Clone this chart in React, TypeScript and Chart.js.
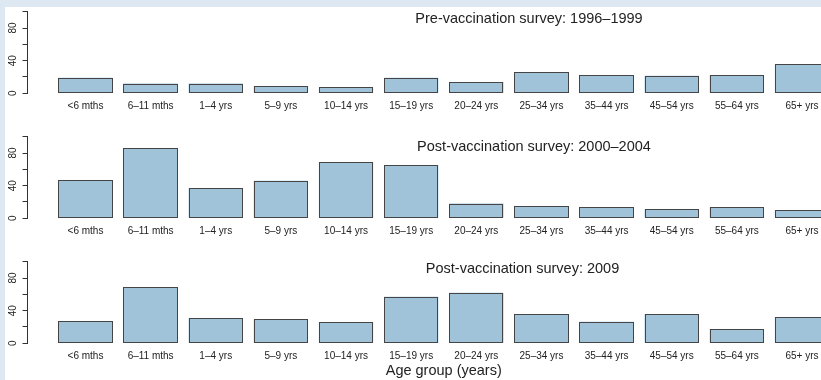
import React, { useEffect, useRef } from 'react';
import { Chart, registerables } from 'chart.js';

Chart.register(...registerables);

// ---- data ----
const AGE_GROUPS = [
  '<6 mths', '6–11 mths', '1–4 yrs', '5–9 yrs', '10–14 yrs', '15–19 yrs',
  '20–24 yrs', '25–34 yrs', '35–44 yrs', '45–54 yrs', '55–64 yrs', '65+ yrs',
];
const PRE_1996_1999 = [19, 12, 12, 9, 7.5, 19, 14, 26, 22, 21.5, 22, 36];
const POST_2000_2004 = [47, 86, 37, 46, 69, 65, 18, 15, 13.5, 11, 13.5, 10];
const POST_2009 = [27, 69, 31, 29.5, 26, 57, 62, 35.5, 26.5, 35.5, 17.5, 32];

const Y_TICKS = [0, 20, 40, 60, 80, 100];
const Y_TICK_LABELS = [0, 40, 80];

const TITLE_PRE = 'Pre-vaccination survey: 1996–1999';
const TITLE_POST_1 = 'Post-vaccination survey: 2000–2004';
const TITLE_POST_2 = 'Post-vaccination survey: 2009';
const X_TITLE = 'Age group (years)';

// ---- style ----
const FONT = '"Liberation Sans", Arial, Helvetica, sans-serif';
const BAR_FILL = '#a1c3da';
const BAR_EDGE = '#454545';
const INK = '#222222';
const FRAME_BG = '#dde8f2';

const CANVAS_W = 860;
const PLOT_TOP = 11.7;
const PLOT_BOTTOM = 93.3;

Chart.defaults.font.family = FONT;

// Draws a panel heading inside the plotting region
const panelTitlePlugin = {
  id: 'panelTitle',
  afterDraw(chart: any, _args: any, opts: any) {
    if (!opts || !opts.text) return;
    const { ctx } = chart;
    ctx.save();
    ctx.font = `14.5px ${FONT}`;
    ctx.fillStyle = INK;
    ctx.textAlign = 'center';
    ctx.textBaseline = 'alphabetic';
    ctx.fillText(opts.text, opts.x, opts.y);
    ctx.restore();
  },
};

// Crisp 1px outline around every bar, taken from the bar elements' geometry
const barOutlinePlugin = {
  id: 'barOutline',
  afterDatasetsDraw(chart: any) {
    const { ctx } = chart;
    ctx.save();
    ctx.strokeStyle = BAR_EDGE;
    ctx.lineWidth = 1;
    chart.getDatasetMeta(0).data.forEach((bar: any) => {
      const { x, y, base, width } = bar.getProps(['x', 'y', 'base', 'width'], true);
      const left = Math.round(x - width / 2) + 0.5;
      const right = Math.round(x + width / 2) - 0.5;
      const top = Math.round(Math.min(y, base)) + 0.5;
      const bottom = Math.round(Math.max(y, base)) - 0.5;
      ctx.strokeRect(left, top, right - left, bottom - top);
    });
    ctx.restore();
  },
};

type PanelProps = {
  title: string;
  values: number[];
  titleX: number;
  titleY: number;
  top: number;
  height: number;
  xTitle?: string;
};

function SurveyPanel({ title, values, titleX, titleY, top, height, xTitle }: PanelProps) {
  const ref = useRef<HTMLCanvasElement | null>(null);

  useEffect(() => {
    if (!ref.current) return;
    const chart = new Chart(ref.current, {
      type: 'bar',
      data: {
        datasets: [
          {
            data: values.map((v, i) => ({ x: i + 1, y: v })),
            backgroundColor: BAR_FILL,
            borderWidth: 0,
            categoryPercentage: 1,
            barPercentage: 1 / 1.2,
          } as any,
        ],
      },
      options: {
        animation: false,
        responsive: false,
        devicePixelRatio: 1,
        events: [],
        layout: { padding: { top: PLOT_TOP, left: 0, right: 0, bottom: 0 } },
        plugins: {
          legend: { display: false },
          tooltip: { enabled: false },
          panelTitle: { text: title, x: titleX, y: titleY },
        } as any,
        scales: {
          x: {
            type: 'linear',
            offset: false,
            min: 0.11,
            max: 12.89,
            afterBuildTicks: (s: any) => {
              s.ticks = AGE_GROUPS.map((_, i) => ({ value: i + 1 }));
            },
            afterFit: (s: any) => {
              s.height = height - PLOT_BOTTOM;
            },
            grid: { display: false, drawTicks: false, offset: false },
            border: { display: false },
            ticks: {
              autoSkip: false,
              minRotation: 0,
              maxRotation: 0,
              padding: 7,
              color: INK,
              font: { size: 10, family: FONT },
              callback: (_v: any, i: number) => AGE_GROUPS[i],
            },
            title: {
              display: !!xTitle,
              text: xTitle || '',
              color: INK,
              font: { size: 14.5, family: FONT },
              padding: { top: 0, bottom: 0 },
            },
          },
          y: {
            min: 0,
            max: 100,
            afterBuildTicks: (s: any) => {
              s.ticks = Y_TICKS.map((v) => ({ value: v }));
            },
            afterFit: (s: any) => {
              s.width = 27.5;
            },
            grid: { drawOnChartArea: false, drawTicks: true, tickLength: 5, color: '#333333' },
            border: { display: true, color: '#333333' },
            ticks: {
              minRotation: 90,
              maxRotation: 90,
              crossAlign: 'center',
              padding: 4,
              color: INK,
              font: { size: 10, family: FONT },
              callback: (v: any) => (Y_TICK_LABELS.includes(Number(v)) ? String(v) : ''),
            },
          },
        } as any,
      },
      plugins: [barOutlinePlugin, panelTitlePlugin],
    });
    return () => chart.destroy();
  }, [title, values, titleX, titleY, height, xTitle]);

  return (
    <canvas
      ref={ref}
      width={CANVAS_W}
      height={height}
      style={{ position: 'absolute', left: 0, top, width: CANVAS_W, height }}
    />
  );
}

export default function App() {
  return (
    <div
      style={{
        position: 'fixed',
        left: 0,
        top: 0,
        width: 821,
        height: 380,
        overflow: 'hidden',
        background: FRAME_BG,
      }}
    >
      <div style={{ position: 'absolute', left: 5, top: 7, right: 0, bottom: 0, background: '#ffffff' }} />
      <SurveyPanel title={TITLE_PRE} values={PRE_1996_1999} titleX={529} titleY={23.3} top={0} height={125} />
      <SurveyPanel title={TITLE_POST_1} values={POST_2000_2004} titleX={534} titleY={26} top={125} height={125} />
      <SurveyPanel
        title={TITLE_POST_2}
        values={POST_2009}
        titleX={522.5}
        titleY={23.3}
        top={250}
        height={130}
        xTitle={X_TITLE}
      />
    </div>
  );
}
